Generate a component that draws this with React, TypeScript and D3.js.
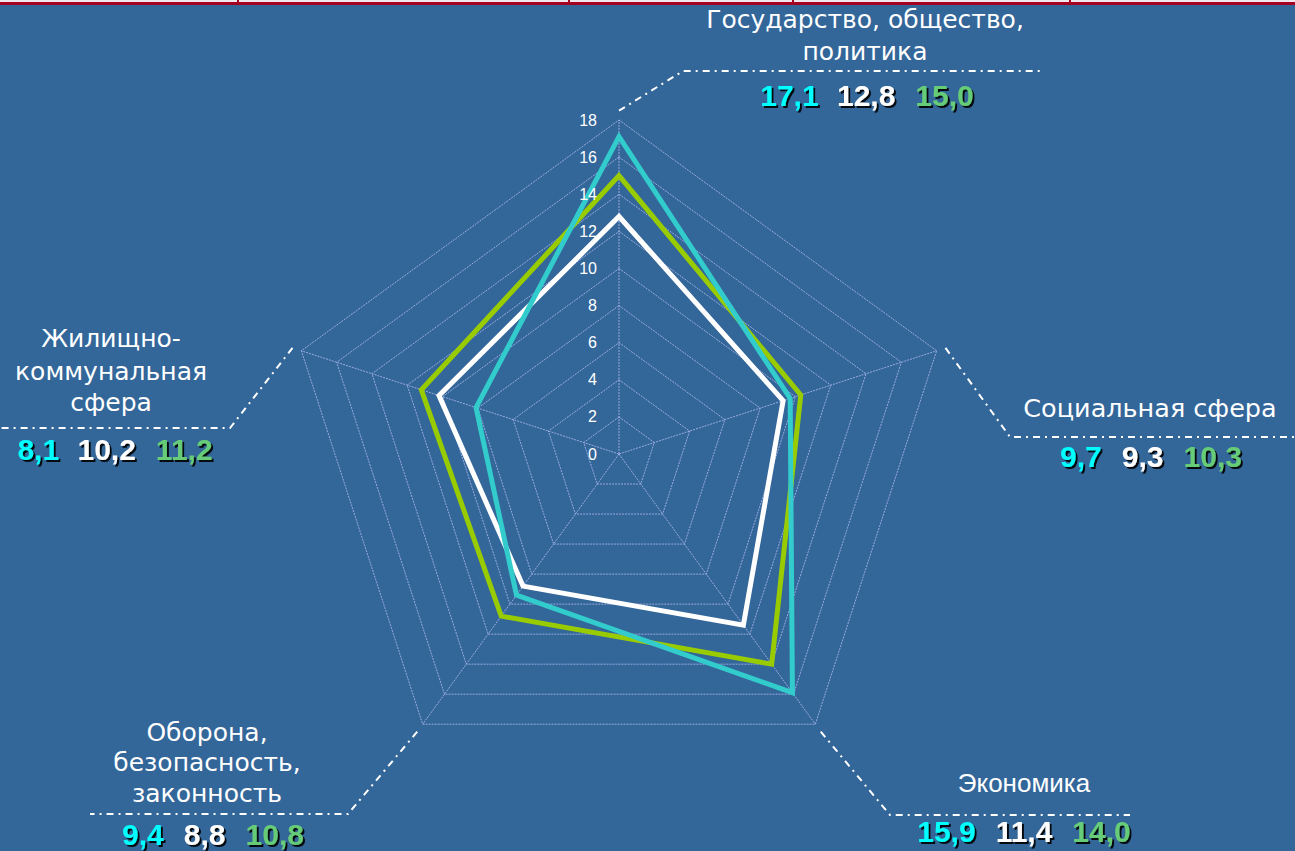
import React from "react";
import * as d3 from "d3";

const categories = [
  ["Государство, общество,", "политика"],
  ["Социальная сфера"],
  ["Экономика"],
  ["Оборона,", "безопасность,", "законность"],
  ["Жилищно-", "коммунальная", "сфера"],
];
const seriesCyan = [17.1, 9.7, 15.9, 9.4, 8.1];
const seriesWhite = [12.8, 9.3, 11.4, 8.8, 10.2];
const seriesGreen = [15.0, 10.3, 14.0, 10.8, 11.2];
const valueLabels = [
  ["17,1", "12,8", "15,0"],
  ["9,7", "9,3", "10,3"],
  ["15,9", "11,4", "14,0"],
  ["9,4", "8,8", "10,8"],
  ["8,1", "10,2", "11,2"],
];
const ticks = [0, 2, 4, 6, 8, 10, 12, 14, 16, 18];

const W = 1295;
const H = 851;
const cx = 619;
const cy = 454;
const BG = "#336699";
const CYAN = "#33CCCC";
const GREEN = "#99CC00";
const LBL_CYAN = "#00FFFF";
const LBL_WHITE = "#FFFFFF";
const LBL_GREEN = "#66CC77";
const GRID = "#B4BCF0";

const r = d3.scaleLinear().domain([0, 18]).range([0, 334]);
const ang = d3.scaleLinear().domain([0, categories.length]).range([0, 2 * Math.PI]);

const pt = (i: number, v: number): [number, number] => {
  const a = ang(i);
  return [cx + r(v) * Math.sin(a), cy - r(v) * Math.cos(a)];
};

const radial = d3
  .lineRadial<number>()
  .angle((_, i) => ang(i))
  .radius((d) => r(d))
  .curve(d3.curveLinearClosed);

// label layout per axis: leader elbow, horizontal end, text anchor positions
const labelLayout = [
  { elbow: [683, 71], end: [1043, 71], tx: 865, ty: [28, 60], vx: 867, vy: 106, font: "DejaVu Sans", fs: 25 },
  { elbow: [1010, 437], end: [1295, 437], tx: 1150, ty: [417], vx: 1151, vy: 467, font: "DejaVu Sans", fs: 25.5 },
  { elbow: [890, 815], end: [1130, 815], tx: 1024, ty: [792], vx: 1024, vy: 842, font: "Liberation Sans", fs: 26 },
  { elbow: [348, 814], end: [90, 814], tx: 207, ty: [741, 771, 802], vx: 213, vy: 845, font: "DejaVu Sans", fs: 25 },
  { elbow: [230, 428], end: [0, 428], tx: 111, ty: [347, 380, 411], vx: 115, vy: 460, font: "DejaVu Sans", fs: 25 },
];

export default function App() {
  const grids = ticks.filter((t) => t > 0).map((t) => radial(categories.map(() => t)) as string);
  const series = [
    { data: seriesWhite, color: "#FFFFFF" },
    { data: seriesGreen, color: GREEN },
    { data: seriesCyan, color: CYAN },
  ];
  const valueColors = [LBL_CYAN, LBL_WHITE, LBL_GREEN];

  return (
    <div style={{ position: "absolute", left: 0, top: 0, width: W, height: H }}>
      <svg width={W} height={H} style={{ display: "block" }}>
        <defs>
          <filter id="shadow" x="-20%" y="-20%" width="150%" height="150%">
            <feDropShadow dx="2" dy="2" stdDeviation="0.7" floodColor="#000" floodOpacity="0.9" />
          </filter>
        </defs>
        <rect x={0} y={0} width={W} height={H} fill={BG} />
        {/* top strip */}
        <rect x={0} y={0} width={W} height={2} fill="#F3E6EA" />
        <rect x={0} y={2} width={W} height={3} fill="#A50021" />
        {[238, 569, 793, 1070].map((x) => (
          <rect key={x} x={x - 1} y={0} width={2} height={5} fill="#A50021" />
        ))}

        {/* grid rings */}
        <g transform={`translate(${cx},${cy})`}>
          {grids.map((d, i) => (
            <path key={i} d={d} fill="none" stroke={GRID} strokeWidth={0.8} strokeDasharray="2,1" />
          ))}
        </g>
        {/* spokes */}
        {categories.map((_, i) => {
          const [x, y] = pt(i, 18);
          return (
            <line key={i} x1={cx} y1={cy} x2={x} y2={y} stroke={GRID} strokeWidth={0.8} strokeDasharray="2,1" />
          );
        })}

        {/* series */}
        <g transform={`translate(${cx},${cy})`}>
          {series.map((s, i) => (
            <path
              key={i}
              d={radial(s.data) as string}
              fill="none"
              stroke={s.color}
              strokeWidth={5}
              strokeLinejoin="miter"
            />
          ))}
        </g>

        {/* tick labels */}
        {ticks.map((t) => (
          <text
            key={t}
            x={cx - 22}
            y={cy - r(t)}
            dy="0.35em"
            textAnchor="end"
            fill="#FFFFFF"
            fontFamily="Liberation Sans, Arial, sans-serif"
            fontSize={16}
          >
            {t}
          </text>
        ))}

        {/* leader lines */}
        {labelLayout.map((L, i) => {
          const [sx, sy] = pt(i, 18.5);
          return (
            <polyline
              key={i}
              points={`${sx},${sy} ${L.elbow[0]},${L.elbow[1]} ${L.end[0]},${L.end[1]}`}
              fill="none"
              stroke="#FFFFFF"
              strokeWidth={2}
              strokeDasharray="7,5,2,5"
            />
          );
        })}

        {/* category labels */}
        {labelLayout.map((L, i) => (
          <g key={i}>
            {categories[i].map((line, j) => (
              <text
                key={j}
                x={L.tx}
                y={L.ty[j]}
                textAnchor="middle"
                fill="#FFFFFF"
                fontFamily={`${L.font}, sans-serif`}
                fontSize={L.fs}
              >
                {line}
              </text>
            ))}
            <text
              x={L.vx}
              y={L.vy}
              textAnchor="middle"
              fontFamily="Liberation Sans, Arial, sans-serif"
              fontWeight="bold"
              fontSize={30}
              filter="url(#shadow)"
            >
              {valueLabels[i].map((v, k) => (
                <tspan key={k} fill={valueColors[k]} dx={k === 0 ? 0 : 20}>
                  {v}
                </tspan>
              ))}
            </text>
          </g>
        ))}
      </svg>
    </div>
  );
}
